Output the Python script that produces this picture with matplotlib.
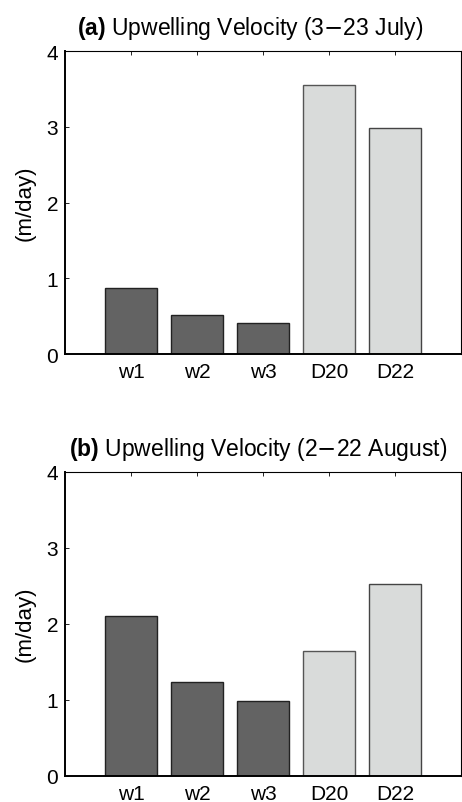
import numpy as np
import matplotlib.pyplot as plt

plt.rcParams['font.family'] = ['Liberation Sans', 'DejaVu Sans']
plt.rcParams['mathtext.fontset'] = 'custom'
plt.rcParams['mathtext.bf'] = 'Liberation Sans:bold'

# Datos
sitios = ['w1', 'w2', 'w3', 'D20', 'D22']
julio = [0.87, 0.515, 0.41, 3.55, 2.98]
agosto = [2.105, 1.237, 0.987, 1.637, 2.52]
colores = ['#636363', '#636363', '#636363', '#d9dbda', '#d9dbda']
bordes = ['#222222', '#222222', '#222222', '#555555', '#444444']

fig = plt.figure(figsize=(4.62, 8.03), dpi=100)
ax1 = fig.add_axes([0.1407, 0.5579, 0.857, 0.3773])
ax2 = fig.add_axes([0.1407, 0.0328, 0.857, 0.3786])

titulos = [r'$\mathbf{(a)}$ Upwelling Velocity (3$-$23 July)',
           r'$\mathbf{(b)}$ Upwelling Velocity (2$-$22 August)']
pos_titulo = [0.468, 0.487]

for ax, vals, tit, xt in zip([ax1, ax2], [julio, agosto], titulos, pos_titulo):
    x = np.arange(1, len(sitios) + 1)
    ax.bar(x, vals, width=0.8, color=colores, edgecolor=bordes, linewidth=1.0)
    ax.set_xlim(0, 6)
    ax.set_ylim(0, 4)
    ax.set_xticks(x)
    ax.set_xticklabels(sitios)
    ax.set_yticks([0, 1, 2, 3, 4])
    ax.tick_params(axis='both', direction='in', length=3, labelsize=15, width=0.6)
    ax.tick_params(axis='x', pad=6, top=True, bottom=False)
    ax.tick_params(axis='y', pad=5)
    ax.set_ylabel('(m/day)', fontsize=16, labelpad=8)
    ax.set_title(tit, fontsize=16.5, pad=12, x=xt)
    for s in ['top', 'right']:
        ax.spines[s].set_linewidth(0.8)
    ax.spines['left'].set_linewidth(1.4)
    ax.spines['bottom'].set_linewidth(1.4)

fig.savefig('out.png', dpi=100)
